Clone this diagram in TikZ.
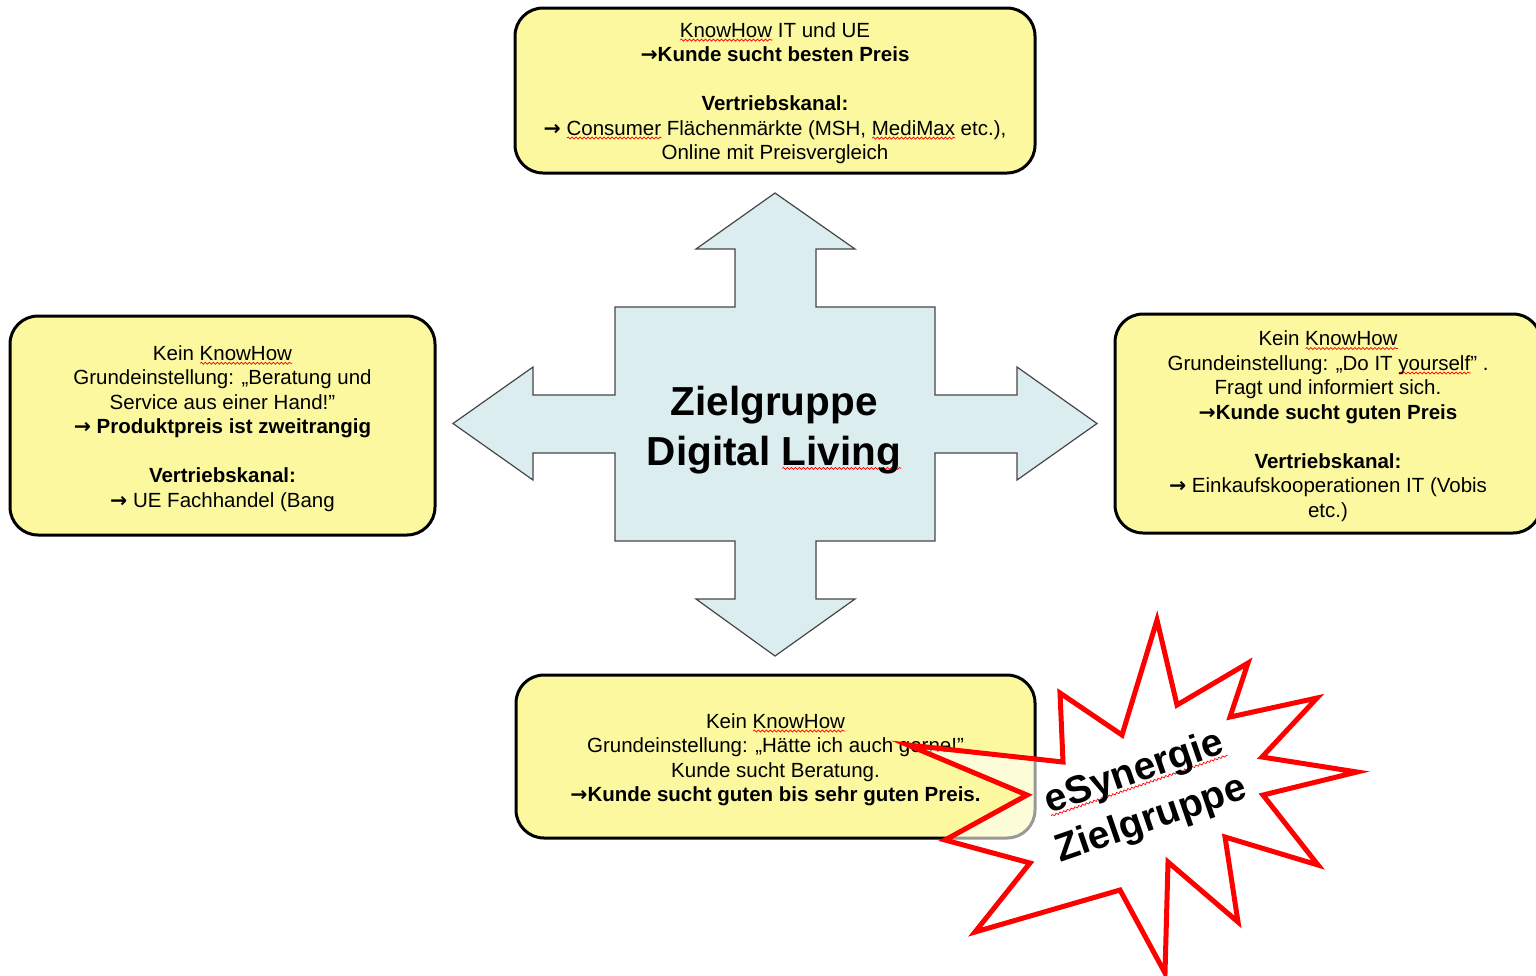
\documentclass[tikz,border=0pt]{standalone}
\usepackage{fontspec}
\setmainfont{Liberation Sans}
\newfontfamily\arrowfont{DejaVu Sans}
\usetikzlibrary{decorations.pathmorphing}

% heavy right arrow used in front of conclusions
\newcommand\arr{{\arrowfont\bfseries →}}

% red wavy underline, as a spell checker marks unknown words
\newsavebox\spellbox
\newlength\spellwd
\newcommand\spellwave[1]{%
  \sbox\spellbox{#1}\setlength\spellwd{\wd\spellbox}%
  \rlap{\tikz[baseline=0pt, x=1pt, y=1pt]\draw[draw=red, fill=none, sharp corners,
      line width=0.7pt, solid, opacity=1, decorate,
      decoration={snake, amplitude=1pt, segment length=4pt}]
      (0pt,-3pt) -- (\spellwd,-3pt);}%
  \usebox\spellbox}

\definecolor{boxyellow}{RGB}{252,248,160}
\definecolor{hubblue}{RGB}{220,237,240}
\definecolor{hubline}{RGB}{70,70,70}
\definecolor{starred}{RGB}{255,0,0}

\tikzset{
  infobox/.style={draw=black, line width=3pt, fill=boxyellow, rounded corners=28pt, inner sep=0pt},
  infotext/.style={align=center, inner sep=0pt, font=\fontsize{20.5}{24.5}\selectfont},
  hubshape/.style={draw=hubline, line width=1.2pt, fill=hubblue, line join=miter},
  hubtext/.style={align=center, font=\bfseries\fontsize{40.5}{50}\selectfont},
  burst/.style={draw=starred, line width=5pt, fill=white, fill opacity=0.6, line join=miter, miter limit=20},
  bursttext/.style={align=center, rotate=19, font=\bfseries\fontsize{39}{50}\selectfont}
}

\begin{document}
\begin{tikzpicture}[x=1pt, y=-1pt]
\useasboundingbox (0,0) rectangle (1536,975);
\fill[white] (0,0) rectangle (1536,975);
\clip (0,0) rectangle (1536,975);

% four-way arrow in the middle
\draw[hubshape] (775,193) -- (855,249) -- (816,249) -- (816,307) -- (935,307)
  -- (935,395) -- (1017,395) -- (1017,367) -- (1097,423.5) -- (1017,480)
  -- (1017,453) -- (935,453) -- (935,541) -- (816,541) -- (816,599)
  -- (855,599) -- (775,656) -- (696,599) -- (735,599) -- (735,541)
  -- (615,541) -- (615,453) -- (533,453) -- (533,480) -- (453,423.5)
  -- (533,367) -- (533,395) -- (615,395) -- (615,307) -- (735,307)
  -- (735,249) -- (696,249) -- cycle;
\node[hubtext] (hub) at (774,430) {Zielgruppe\\ Digital \spellwave{Living}};

% the four customer groups
\node[infobox, minimum width=520pt, minimum height=165pt] (top) at (775,90.5) {};
\node[infotext] (top-text) at ([yshift=-2.5pt]top.center)
  {\spellwave{KnowHow} IT und UE\\
   \textbf{\arr Kunde sucht besten Preis}\\[24.5pt]
   \textbf{Vertriebskanal:}\\
   \arr\ \spellwave{Consumer} Flächenmärkte (MSH, \spellwave{MediMax} etc.),\\
   Online mit Preisvergleich};

\node[infobox, minimum width=425pt, minimum height=219pt] (left) at (222.5,425.5) {};
\node[infotext] (left-text) at ([yshift=-3pt]left.center)
  {Kein \spellwave{KnowHow}\\
   Grundeinstellung: „Beratung und\\
   Service aus einer Hand!"\\
   \textbf{\arr\ Produktpreis ist zweitrangig}\\[24.5pt]
   \textbf{Vertriebskanal:}\\
   \arr\ UE Fachhandel (Bang};

\node[infobox, minimum width=426pt, minimum height=219pt] (right) at (1328,423.5) {};
\node[infotext] (right-text) at ([yshift=-2.5pt]right.center)
  {Kein \spellwave{KnowHow}\\
   Grundeinstellung: „Do IT \spellwave{yourself}" .\\
   Fragt und informiert sich.\\
   \textbf{\arr Kunde sucht guten Preis}\\[24.5pt]
   \textbf{Vertriebskanal:}\\
   \arr\ Einkaufskooperationen IT (Vobis\\
   etc.)};

\node[infobox, minimum width=519pt, minimum height=163pt] (bottom) at (775.5,756.5) {};
\node[infotext] (bottom-text) at ([yshift=-3pt]bottom.center)
  {Kein \spellwave{KnowHow}\\
   Grundeinstellung: „Hätte ich auch gerne!"\\
   Kunde sucht Beratung.\\
   \textbf{\arr Kunde sucht guten bis sehr guten Preis.}};

% explosion badge
\draw[burst] (1157,620) -- (1177,705) -- (1248,663) -- (1230,717) -- (1317,698)
  -- (1262,757) -- (1357,772) -- (1263,795) -- (1318,865) -- (1225,837)
  -- (1238,922) -- (1168,862) -- (1165,973) -- (1120,890) -- (975,932)
  -- (1030,863) -- (945,840) -- (1027,795) -- (908,745) -- (1063,762)
  -- (1060,693) -- (1122,735) -- cycle;
\node[bursttext] (badge) at (1143,797) {\spellwave{eSynergie}\\ Zielgruppe};
\end{tikzpicture}
\end{document}
